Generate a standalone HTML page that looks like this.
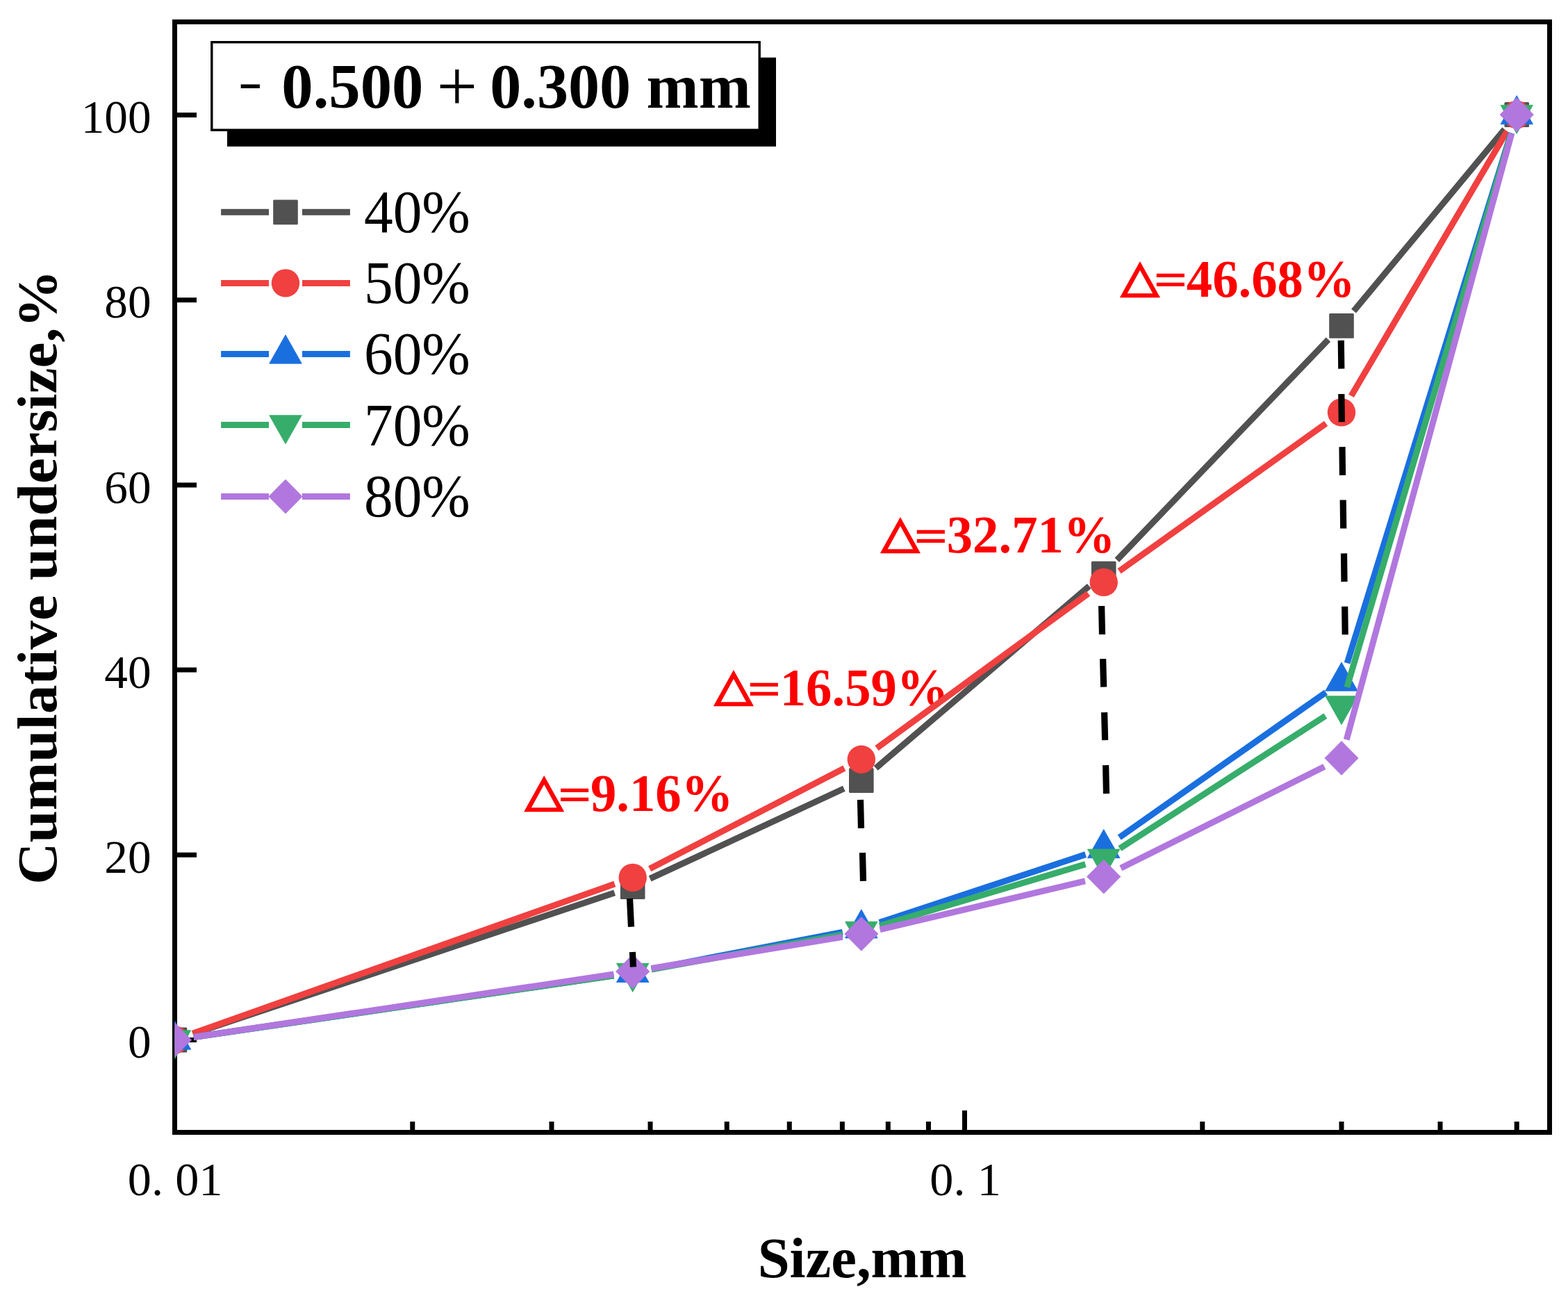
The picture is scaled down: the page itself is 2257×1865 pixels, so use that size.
<!DOCTYPE html>
<html><head><meta charset="utf-8"><title>Cumulative undersize</title>
<style>html,body{margin:0;padding:0;background:#fff;} svg{display:block;}</style></head>
<body><svg width="2257" height="1865" viewBox="0 0 2257 1865">
<rect x="0" y="0" width="2257" height="1865" fill="#fff"/>
<g fill="#FF0000">
<g transform="matrix(0.68876 0 0 0.64123 1606.56 427.68)"><text font-family="'IPAGothic', 'DejaVu Sans', sans-serif" font-weight="normal" font-size="100" text-anchor="start" stroke="#FF0000" stroke-width="2.6">△</text></g>
<g transform="matrix(0.64064 0 0 0.63717 1658.07 422.99)"><text font-family="'DejaVu Sans', sans-serif" font-weight="normal" font-size="100" text-anchor="start">=</text></g>
<g transform="matrix(0.74718 0 0 0.76176 1707.87 426.56)"><text font-family="'Liberation Serif', 'Times New Roman', serif" font-weight="bold" font-size="100" text-anchor="start">46.68%</text></g>
<g transform="matrix(0.68876 0 0 0.64123 1261.46 796.48)"><text font-family="'IPAGothic', 'DejaVu Sans', sans-serif" font-weight="normal" font-size="100" text-anchor="start" stroke="#FF0000" stroke-width="2.6">△</text></g>
<g transform="matrix(0.64064 0 0 0.63717 1312.97 791.79)"><text font-family="'DejaVu Sans', sans-serif" font-weight="normal" font-size="100" text-anchor="start">=</text></g>
<g transform="matrix(0.74718 0 0 0.76176 1362.77 795.36)"><text font-family="'Liberation Serif', 'Times New Roman', serif" font-weight="bold" font-size="100" text-anchor="start">32.71%</text></g>
<g transform="matrix(0.68876 0 0 0.64123 1021.46 1016.48)"><text font-family="'IPAGothic', 'DejaVu Sans', sans-serif" font-weight="normal" font-size="100" text-anchor="start" stroke="#FF0000" stroke-width="2.6">△</text></g>
<g transform="matrix(0.64064 0 0 0.63717 1072.97 1011.79)"><text font-family="'DejaVu Sans', sans-serif" font-weight="normal" font-size="100" text-anchor="start">=</text></g>
<g transform="matrix(0.74718 0 0 0.76176 1122.77 1015.36)"><text font-family="'Liberation Serif', 'Times New Roman', serif" font-weight="bold" font-size="100" text-anchor="start">16.59%</text></g>
<g transform="matrix(0.68876 0 0 0.64123 748.66 1168.48)"><text font-family="'IPAGothic', 'DejaVu Sans', sans-serif" font-weight="normal" font-size="100" text-anchor="start" stroke="#FF0000" stroke-width="2.6">△</text></g>
<g transform="matrix(0.64064 0 0 0.63717 800.17 1163.79)"><text font-family="'DejaVu Sans', sans-serif" font-weight="normal" font-size="100" text-anchor="start">=</text></g>
<g transform="matrix(0.74718 0 0 0.76176 849.97 1167.36)"><text font-family="'Liberation Serif', 'Times New Roman', serif" font-weight="bold" font-size="100" text-anchor="start">9.16%</text></g>
</g>
<path d="M248.0 1496.50H283 M248.0 1230.30H283 M248.0 964.10H283 M248.0 697.90H283 M248.0 431.70H283 M248.0 165.50H283 M1388.50 1633.0V1598 M593.77 1633.0V1614 M793.99 1633.0V1614 M936.04 1633.0V1614 M1046.23 1633.0V1614 M1136.26 1633.0V1614 M1212.38 1633.0V1614 M1278.31 1633.0V1614 M1336.47 1633.0V1614 M1730.77 1633.0V1614 M1930.99 1633.0V1614 M2073.04 1633.0V1614 M2183.23 1633.0V1614" stroke="#000" stroke-width="7" fill="none"/>
<rect x="251.5" y="31.5" width="1979.0" height="1598.0" fill="none" stroke="#000" stroke-width="7"/>
<defs><clipPath id="cp"><rect x="251.5" y="31.5" width="1979.0" height="1598.0"/></clipPath></defs>
<g clip-path="url(#cp)">
<path d="M277.58 1487.78L884.63 1284.72M935.66 1264.42L1214.87 1134.78M1260.74 1105.35L1567.79 843.45M1607.76 805.76L1911.95 488.74M1948.55 447.74L2165.67 186.16" stroke="#515151" stroke-width="9" fill="none" stroke-linecap="butt"/>
<rect x="233.70" y="1478.60" width="35.6" height="35.8" rx="1.5" fill="#515151"/>
<rect x="892.91" y="1258.10" width="35.6" height="35.8" rx="1.5" fill="#515151"/>
<rect x="1222.02" y="1105.30" width="35.6" height="35.8" rx="1.5" fill="#515151"/>
<rect x="1570.92" y="807.70" width="35.6" height="35.8" rx="1.5" fill="#515151"/>
<rect x="1913.19" y="451.00" width="35.6" height="35.8" rx="1.5" fill="#515151"/>
<rect x="2165.43" y="147.10" width="35.6" height="35.8" rx="1.5" fill="#515151"/>
<path d="M277.42 1487.31L884.79 1272.09M935.14 1250.27L1215.39 1105.43M1262.02 1076.58L1566.51 854.12M1611.09 821.92L1908.61 609.38M1944.94 569.70L2169.28 188.70" stroke="#F14040" stroke-width="9" fill="none" stroke-linecap="butt"/>
<circle cx="251.50" cy="1496.50" r="20.2" fill="#F14040"/>
<circle cx="910.71" cy="1262.90" r="20.2" fill="#F14040"/>
<circle cx="1239.82" cy="1092.80" r="20.2" fill="#F14040"/>
<circle cx="1588.72" cy="837.90" r="20.2" fill="#F14040"/>
<circle cx="1930.99" cy="593.40" r="20.2" fill="#F14040"/>
<circle cx="2183.23" cy="165.00" r="20.2" fill="#F14040"/>
<path d="M278.71 1492.51L883.51 1403.79M937.71 1394.58L1212.82 1341.42M1265.93 1327.58L1562.60 1229.62M1611.22 1205.19L1908.49 996.31M1939.11 954.23L2175.10 191.27" stroke="#1A6FDF" stroke-width="9" fill="none" stroke-linecap="butt"/>
<polygon points="251.50,1469.03 274.80,1510.23 228.20,1510.23" fill="#1A6FDF" stroke="#1A6FDF" stroke-width="0.8" stroke-linejoin="round"/>
<polygon points="910.71,1372.33 934.01,1413.53 887.41,1413.53" fill="#1A6FDF" stroke="#1A6FDF" stroke-width="0.8" stroke-linejoin="round"/>
<polygon points="1239.82,1308.73 1263.12,1349.93 1216.52,1349.93" fill="#1A6FDF" stroke="#1A6FDF" stroke-width="0.8" stroke-linejoin="round"/>
<polygon points="1588.72,1193.53 1612.02,1234.73 1565.42,1234.73" fill="#1A6FDF" stroke="#1A6FDF" stroke-width="0.8" stroke-linejoin="round"/>
<polygon points="1930.99,953.03 1954.29,994.23 1907.69,994.23" fill="#1A6FDF" stroke="#1A6FDF" stroke-width="0.8" stroke-linejoin="round"/>
<polygon points="2183.23,137.53 2206.53,178.73 2159.93,178.73" fill="#1A6FDF" stroke="#1A6FDF" stroke-width="0.8" stroke-linejoin="round"/>
<path d="M278.71 1492.52L883.50 1403.98M937.77 1395.08L1212.76 1345.02M1266.16 1332.22L1562.37 1243.68M1611.84 1220.91L1907.87 1030.29M1938.81 989.04L2175.41 191.36" stroke="#37AD6B" stroke-width="9" fill="none" stroke-linecap="butt"/>
<polygon points="251.50,1523.97 274.80,1482.77 228.20,1482.77" fill="#37AD6B" stroke="#37AD6B" stroke-width="0.8" stroke-linejoin="round"/>
<polygon points="910.71,1427.47 934.01,1386.27 887.41,1386.27" fill="#37AD6B" stroke="#37AD6B" stroke-width="0.8" stroke-linejoin="round"/>
<polygon points="1239.82,1367.57 1263.12,1326.37 1216.52,1326.37" fill="#37AD6B" stroke="#37AD6B" stroke-width="0.8" stroke-linejoin="round"/>
<polygon points="1588.72,1263.27 1612.02,1222.07 1565.42,1222.07" fill="#37AD6B" stroke="#37AD6B" stroke-width="0.8" stroke-linejoin="round"/>
<polygon points="1930.99,1042.87 1954.29,1001.67 1907.69,1001.67" fill="#37AD6B" stroke="#37AD6B" stroke-width="0.8" stroke-linejoin="round"/>
<polygon points="2183.23,192.47 2206.53,151.27 2159.93,151.27" fill="#37AD6B" stroke="#37AD6B" stroke-width="0.8" stroke-linejoin="round"/>
<path d="M278.70 1492.44L883.52 1402.06M937.85 1393.54L1212.68 1348.36M1266.58 1337.59L1561.95 1267.91M1613.33 1249.33L1906.37 1103.27M1938.21 1064.47L2176.00 191.53" stroke="#B177DE" stroke-width="9" fill="none" stroke-linecap="butt"/>
<polygon points="251.50,1472.10 275.70,1496.50 251.50,1520.90 227.30,1496.50" fill="#B177DE" stroke="#B177DE" stroke-width="0.8" stroke-linejoin="round"/>
<polygon points="910.71,1373.60 934.91,1398.00 910.71,1422.40 886.51,1398.00" fill="#B177DE" stroke="#B177DE" stroke-width="0.8" stroke-linejoin="round"/>
<polygon points="1239.82,1319.50 1264.02,1343.90 1239.82,1368.30 1215.62,1343.90" fill="#B177DE" stroke="#B177DE" stroke-width="0.8" stroke-linejoin="round"/>
<polygon points="1588.72,1237.20 1612.92,1261.60 1588.72,1286.00 1564.52,1261.60" fill="#B177DE" stroke="#B177DE" stroke-width="0.8" stroke-linejoin="round"/>
<polygon points="1930.99,1066.60 1955.19,1091.00 1930.99,1115.40 1906.79,1091.00" fill="#B177DE" stroke="#B177DE" stroke-width="0.8" stroke-linejoin="round"/>
<polygon points="2183.23,140.60 2207.43,165.00 2183.23,189.40 2159.03,165.00" fill="#B177DE" stroke="#B177DE" stroke-width="0.8" stroke-linejoin="round"/>
</g>
<path d="M906.5 1293.1L908.5 1333.8M910.4 1369.9L911.5 1391.6M1238.5 1150.9L1239.5 1191.8M1241.5 1227.1L1242.5 1267.8M1585.6 872.0L1586.5 913.0M1587.6 948.1L1588.6 988.7M1589.6 1025.1L1590.6 1065.2M1591.6 1101.2L1592.5 1142.1M1930.3 489.9L1930.8 530.6M1930.8 567.0L1931.3 607.3M1932.0 643.1L1932.5 683.9M1933.2 719.5L1933.7 760.5M1934.5 796.4L1935.0 837.1M1935.7 872.7L1936.2 913.2" stroke="#000" stroke-width="9.2" fill="none" stroke-linecap="butt"/>
<g transform="matrix(0.67243 0 0 0.68593 217.52 1522.21)"><text font-family="'Liberation Serif', 'Times New Roman', serif" font-weight="normal" font-size="100" text-anchor="end">0</text></g>
<g transform="matrix(0.67243 0 0 0.68593 217.52 1256.01)"><text font-family="'Liberation Serif', 'Times New Roman', serif" font-weight="normal" font-size="100" text-anchor="end">20</text></g>
<g transform="matrix(0.67243 0 0 0.68593 217.52 989.81)"><text font-family="'Liberation Serif', 'Times New Roman', serif" font-weight="normal" font-size="100" text-anchor="end">40</text></g>
<g transform="matrix(0.67243 0 0 0.68593 217.52 723.61)"><text font-family="'Liberation Serif', 'Times New Roman', serif" font-weight="normal" font-size="100" text-anchor="end">60</text></g>
<g transform="matrix(0.67243 0 0 0.68593 217.52 457.41)"><text font-family="'Liberation Serif', 'Times New Roman', serif" font-weight="normal" font-size="100" text-anchor="end">80</text></g>
<g transform="matrix(0.67243 0 0 0.68593 217.52 191.21)"><text font-family="'Liberation Serif', 'Times New Roman', serif" font-weight="normal" font-size="100" text-anchor="end">100</text></g>
<g transform="matrix(0.68300 0 0 0.68676 183.84 1720.37)"><text x="0 50 100 150" font-family="'Liberation Serif', 'Times New Roman', serif" font-weight="normal" font-size="100" text-anchor="start">0.01</text></g>
<g transform="matrix(0.68300 0 0 0.68676 1338.34 1720.37)"><text x="0 50 100" font-family="'Liberation Serif', 'Times New Roman', serif" font-weight="normal" font-size="100" text-anchor="start">0.1</text></g>
<g transform="matrix(0.82635 0 0 0.81877 1090.66 1837.50)"><text font-family="'Liberation Serif', 'Times New Roman', serif" font-weight="bold" font-size="100" text-anchor="start">Size,mm</text></g>
<g transform="matrix(0 -0.83372 0.80576 0 81.00 1272.77)"><text font-family="'Liberation Serif', 'Times New Roman', serif" font-weight="bold" font-size="100" text-anchor="start">Cumulative undersize,%</text></g>
<rect x="327" y="82.8" width="790" height="128" fill="#000"/>
<rect x="304.8" y="60.7" width="788.4" height="126.4" fill="#fff" stroke="#000" stroke-width="3.4"/>
<g transform="matrix(0.90713 0 0 0.91765 405.30 154.72)"><text font-family="'Liberation Serif', 'Times New Roman', serif" font-weight="bold" font-size="100" text-anchor="start">0.500</text></g>
<g transform="matrix(1.04086 0 0 1.03011 628.60 159.30)"><text font-family="'Liberation Serif', 'Times New Roman', serif" font-weight="normal" font-size="100" text-anchor="start">+</text></g>
<g transform="matrix(0.90116 0 0 0.91765 705.32 154.72)"><text font-family="'Liberation Serif', 'Times New Roman', serif" font-weight="bold" font-size="100" text-anchor="start">0.300 mm</text></g>
<g transform="matrix(1.05000 0 0 0.74667 342.76 141.95)"><text font-family="'Liberation Serif', 'Times New Roman', serif" font-weight="normal" font-size="100" text-anchor="start">-</text></g>
<path d="M318.1 305.3H387M435 305.3H503.9" stroke="#515151" stroke-width="9" fill="none"/>
<rect x="393.20" y="287.40" width="35.6" height="35.8" rx="1.5" fill="#515151"/>
<g transform="matrix(0.83427 0 0 0.86199 523.93 334.02)"><text font-family="'Liberation Serif', 'Times New Roman', serif" font-weight="normal" font-size="100" text-anchor="start">40%</text></g>
<path d="M318.1 407.4H387M435 407.4H503.9" stroke="#F14040" stroke-width="9" fill="none"/>
<circle cx="411.00" cy="407.40" r="20.2" fill="#F14040"/>
<g transform="matrix(0.83427 0 0 0.86199 523.93 436.22)"><text font-family="'Liberation Serif', 'Times New Roman', serif" font-weight="normal" font-size="100" text-anchor="start">50%</text></g>
<path d="M318.1 509.4H387M435 509.4H503.9" stroke="#1A6FDF" stroke-width="9" fill="none"/>
<polygon points="411.00,481.93 434.30,523.13 387.70,523.13" fill="#1A6FDF" stroke="#1A6FDF" stroke-width="0.8" stroke-linejoin="round"/>
<g transform="matrix(0.83427 0 0 0.86199 523.93 538.42)"><text font-family="'Liberation Serif', 'Times New Roman', serif" font-weight="normal" font-size="100" text-anchor="start">60%</text></g>
<path d="M318.1 611.4H387M435 611.4H503.9" stroke="#37AD6B" stroke-width="9" fill="none"/>
<polygon points="411.00,638.87 434.30,597.67 387.70,597.67" fill="#37AD6B" stroke="#37AD6B" stroke-width="0.8" stroke-linejoin="round"/>
<g transform="matrix(0.83427 0 0 0.86199 523.93 640.62)"><text font-family="'Liberation Serif', 'Times New Roman', serif" font-weight="normal" font-size="100" text-anchor="start">70%</text></g>
<path d="M318.1 714.5H387M435 714.5H503.9" stroke="#B177DE" stroke-width="9" fill="none"/>
<polygon points="411.00,690.10 435.20,714.50 411.00,738.90 386.80,714.50" fill="#B177DE" stroke="#B177DE" stroke-width="0.8" stroke-linejoin="round"/>
<g transform="matrix(0.83427 0 0 0.86199 523.93 742.82)"><text font-family="'Liberation Serif', 'Times New Roman', serif" font-weight="normal" font-size="100" text-anchor="start">80%</text></g>
</svg></body></html>
